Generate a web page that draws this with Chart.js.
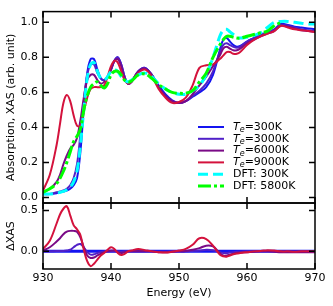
<!DOCTYPE html>
<html>
<head>
<meta charset="utf-8">
<script src="https://cdn.jsdelivr.net/npm/chart.js@4.4.0/dist/chart.umd.min.js"></script>
<style>
body { margin: 0; background: #fff; }
#wrap { position: relative; width: 333px; height: 306px; }
#wrap canvas { position: absolute; left: 0; top: 0; }
</style>
</head>
<body>
<div id="wrap">
<canvas id="xas" width="333" height="306"></canvas>
<canvas id="dxas" width="333" height="306"></canvas>
</div>
<script>
// energy grid (eV)
var energy = [930,931,932,932.5,933,933.5,934,934.5,935,935.5,936,936.5,937,937.5,938,938.5,939,939.5,940,940.5,941,941.5,942,942.5,943,
  944,945,946,947,948,949,950,951,952,953,954,955,956,956.5,957,957.5,958,958.5,959,960,961,962,963,964,965,966,967,968,969,970];

// absorption, top panel
var xas300 = [0.02,0.02,0.025,0.03,0.035,0.04,0.05,0.07,0.11,0.26,0.51,0.71,0.79,0.79,0.73,0.68,0.67,0.69,0.73,0.78,0.80,0.76,0.69,0.65,0.66,
  0.72,0.74,0.70,0.64,0.59,0.555,0.54,0.55,0.575,0.60,0.63,0.70,0.84,0.90,0.91,0.89,0.87,0.86,0.865,0.89,0.91,0.93,0.94,0.96,0.99,0.985,0.975,0.97,0.965,0.96];
var xas3000 = [0.02,0.02,0.03,0.035,0.04,0.05,0.07,0.11,0.19,0.36,0.55,0.70,0.76,0.76,0.71,0.68,0.67,0.69,0.73,0.78,0.80,0.76,0.69,0.65,0.66,
  0.72,0.74,0.70,0.63,0.58,0.55,0.54,0.55,0.58,0.61,0.65,0.72,0.83,0.87,0.88,0.87,0.86,0.855,0.86,0.89,0.91,0.93,0.94,0.955,0.985,0.98,0.97,0.96,0.955,0.95];
var xas6000 = [0.03,0.05,0.09,0.13,0.19,0.24,0.28,0.30,0.34,0.44,0.57,0.67,0.70,0.70,0.67,0.65,0.66,0.69,0.73,0.78,0.79,0.75,0.68,0.65,0.66,
  0.72,0.735,0.70,0.63,0.58,0.55,0.54,0.55,0.59,0.64,0.69,0.75,0.81,0.85,0.86,0.85,0.84,0.84,0.85,0.88,0.90,0.92,0.935,0.95,0.98,0.975,0.965,0.955,0.95,0.945];
var xas9000 = [0.04,0.13,0.30,0.42,0.54,0.585,0.55,0.47,0.41,0.41,0.49,0.57,0.62,0.63,0.63,0.63,0.64,0.69,0.75,0.78,0.77,0.72,0.67,0.65,0.66,
  0.71,0.73,0.69,0.62,0.57,0.54,0.545,0.57,0.64,0.74,0.755,0.76,0.79,0.81,0.83,0.83,0.82,0.82,0.83,0.87,0.90,0.92,0.935,0.95,0.98,0.97,0.96,0.955,0.95,0.945];
var dft300 = [0.02,0.02,0.025,0.03,0.035,0.045,0.06,0.09,0.15,0.30,0.50,0.68,0.76,0.77,0.72,0.68,0.67,0.69,0.72,0.73,0.72,0.69,0.67,0.66,0.67,
  0.70,0.71,0.69,0.65,0.62,0.60,0.59,0.59,0.61,0.64,0.70,0.80,0.92,0.955,0.96,0.945,0.93,0.915,0.91,0.915,0.925,0.94,0.97,1.0,1.005,1.005,1.0,0.995,0.99,0.99];
var dft5800 = [0.03,0.05,0.08,0.11,0.15,0.20,0.26,0.32,0.35,0.39,0.50,0.58,0.63,0.65,0.66,0.64,0.625,0.65,0.70,0.72,0.72,0.70,0.67,0.66,0.665,
  0.70,0.705,0.68,0.645,0.62,0.60,0.595,0.595,0.61,0.66,0.71,0.80,0.87,0.90,0.92,0.92,0.915,0.91,0.91,0.92,0.93,0.94,0.95,0.98,1.0,null,null,null,null,null];

// difference to 300K, bottom panel
var zeroEnergy = [930, 970];
var d300 = [0, 0];
var d3000 = [0,0,0.005,0.005,0.005,0.01,0.02,0.05,0.08,0.09,0.05,-0.01,-0.04,-0.035,-0.02,-0.01,0,0,0,0,0,-0.005,0,0,0,
  0,0,0,-0.005,-0.005,0,0,0,0.005,0.01,0.02,0.015,-0.01,-0.02,-0.02,-0.015,-0.01,-0.005,-0.005,0,0,0,0,0,-0.005,-0.005,-0.005,-0.005,-0.005,-0.005];
var d6000 = [0.01,0.05,0.12,0.16,0.21,0.24,0.25,0.25,0.24,0.17,0.05,-0.05,-0.08,-0.075,-0.05,-0.03,-0.01,0,0.01,0.01,-0.01,-0.02,-0.01,0,0,
  0,0,0,-0.01,-0.01,-0.005,0,0.005,0.02,0.04,0.07,0.06,-0.02,-0.05,-0.05,-0.04,-0.03,-0.02,-0.015,-0.01,-0.005,0,0,-0.005,-0.01,-0.01,-0.01,-0.01,-0.01,-0.01];
var d9000 = [0.03,0.13,0.34,0.45,0.52,0.55,0.44,0.32,0.27,0.20,0.02,-0.12,-0.18,-0.15,-0.10,-0.05,-0.02,0.02,0.05,0.03,-0.02,-0.045,-0.03,0,0.01,
  0.03,0.015,0,-0.01,-0.015,-0.005,0.01,0.03,0.08,0.16,0.15,0.07,-0.04,-0.06,-0.065,-0.05,-0.035,-0.025,-0.02,-0.01,0,0.005,0.015,0.01,0,0,-0.005,0,0,0];

var labels = ['Te=300K', 'Te=3000K', 'Te=6000K', 'Te=9000K', 'DFT: 300K', 'DFT: 5800K'];
var xTicks = [930, 940, 950, 960, 970];
var topTicks = [0, 0.2, 0.4, 0.6, 0.8, 1.0];
var bottomTicks = [0, 0.5];

var colors = ['#1414f0', '#5020c8', '#7a0a86', '#d4123c', '#00ffff', '#00ff00'];
var dashes = [[], [], [], [], [10, 5], [13, 3, 3, 3]];
var widths = [2, 2, 2, 2, 3, 3];

Chart.defaults.font.family = 'DejaVu Sans';
Chart.defaults.font.size = 11;
Chart.defaults.color = '#000';

function pts(xs, ys) {
  return xs.map(function (e, i) { return { x: e, y: ys[i] }; });
}

function line(i, xs, ys, w) {
  return {
    label: labels[i],
    data: pts(xs, ys),
    borderColor: colors[i],
    borderWidth: w || widths[i],
    borderDash: dashes[i],
    pointRadius: 0,
    tension: 0.35,
    spanGaps: false,
    fill: false,
    order: 6 - i
  };
}

// frame with inward ticks
var frame = {
  id: 'frame',
  afterDraw: function (chart) {
    var a = chart.chartArea, c = chart.ctx;
    var xs = chart.scales.x, ys = chart.scales.y;
    c.save();
    c.strokeStyle = '#000';
    c.lineWidth = 1.5;
    c.strokeRect(a.left, a.top, a.right - a.left, a.bottom - a.top);
    c.beginPath();
    xs.ticks.forEach(function (t) {
      var p = xs.getPixelForValue(t.value);
      c.moveTo(p, a.top); c.lineTo(p, a.top + 6);
      c.moveTo(p, a.bottom); c.lineTo(p, a.bottom - 6);
    });
    ys.ticks.forEach(function (t) {
      var p = ys.getPixelForValue(t.value);
      c.moveTo(a.left, p); c.lineTo(a.left + 6, p);
      c.moveTo(a.right, p); c.lineTo(a.right - 6, p);
    });
    c.stroke();
    c.restore();
  }
};

// legend inside the top panel
var legendBox = {
  id: 'legendBox',
  afterDraw: function (chart) {
    var c = chart.ctx;
    c.save();
    c.textBaseline = 'middle';
    labels.forEach(function (lab, i) {
      var y = 127 + i * 11.8;
      c.strokeStyle = colors[i];
      c.lineWidth = widths[i];
      c.setLineDash(dashes[i]);
      c.beginPath(); c.moveTo(198, y); c.lineTo(224, y); c.stroke();
      c.setLineDash([]);
      c.fillStyle = '#000';
      var x = 233;
      if (lab.indexOf('Te=') === 0) {
        c.font = 'italic 11px "DejaVu Sans"';
        c.fillText('T', x, y); x += c.measureText('T').width;
        c.font = 'italic 8px "DejaVu Sans"';
        c.fillText('e', x, y + 3); x += c.measureText('e').width;
        c.font = '11px "DejaVu Sans"';
        c.fillText(lab.slice(2), x, y);
      } else {
        c.font = '11px "DejaVu Sans"';
        c.fillText(lab, x, y);
      }
    });
    c.restore();
  }
};

function setTicks(arr) {
  return function (s) { s.ticks = arr.map(function (v) { return { value: v }; }); };
}

new Chart(document.getElementById('xas'), {
  type: 'line',
  data: {
    datasets: [
      line(0, energy, xas300), line(1, energy, xas3000), line(2, energy, xas6000),
      line(3, energy, xas9000), line(4, energy, dft300), line(5, energy, dft5800)
    ]
  },
  options: {
    responsive: false,
    animation: false,
    layout: { padding: { top: 5, right: 18, bottom: 103, left: 0 } },
    plugins: { legend: { display: false }, tooltip: { enabled: false } },
    scales: {
      x: {
        type: 'linear', min: 930, max: 970,
        afterBuildTicks: setTicks(xTicks),
        ticks: { display: false },
        grid: { display: false, drawTicks: false },
        border: { display: false },
        afterFit: function (s) { s.height = 0; }
      },
      y: {
        min: -0.031, max: 1.061,
        afterBuildTicks: setTicks(topTicks),
        ticks: { padding: 5, callback: function (v) { return v.toFixed(1); } },
        grid: { display: false, drawTicks: false },
        border: { display: false },
        title: { display: true, text: 'Absorption, XAS (arb. unit)', padding: { top: 5, bottom: 0 } },
        afterFit: function (s) { s.width = 43; }
      }
    }
  },
  plugins: [frame, legendBox]
});

new Chart(document.getElementById('dxas'), {
  type: 'line',
  data: {
    datasets: [
      line(0, zeroEnergy, d300, 3), line(1, energy, d3000), line(2, energy, d6000), line(3, energy, d9000)
    ]
  },
  options: {
    responsive: false,
    animation: false,
    layout: { padding: { top: 203, right: 18, bottom: 0, left: 0 } },
    plugins: { legend: { display: false }, tooltip: { enabled: false } },
    scales: {
      x: {
        type: 'linear', min: 930, max: 970,
        afterBuildTicks: setTicks(xTicks),
        ticks: { padding: 3, maxRotation: 0 },
        grid: { display: false, drawTicks: false },
        border: { display: false },
        title: { display: true, text: 'Energy (eV)', padding: { top: 0, bottom: 6 } },
        afterFit: function (s) { s.height = 37; }
      },
      y: {
        min: -0.215, max: 0.59,
        afterBuildTicks: setTicks(bottomTicks),
        ticks: { padding: 5, callback: function (v) { return v.toFixed(1); } },
        grid: { display: false, drawTicks: false },
        border: { display: false },
        title: { display: true, text: 'ΔXAS', padding: { top: 5, bottom: 0 } },
        afterFit: function (s) { s.width = 43; }
      }
    }
  },
  plugins: [frame]
});
</script>
</body>
</html>
